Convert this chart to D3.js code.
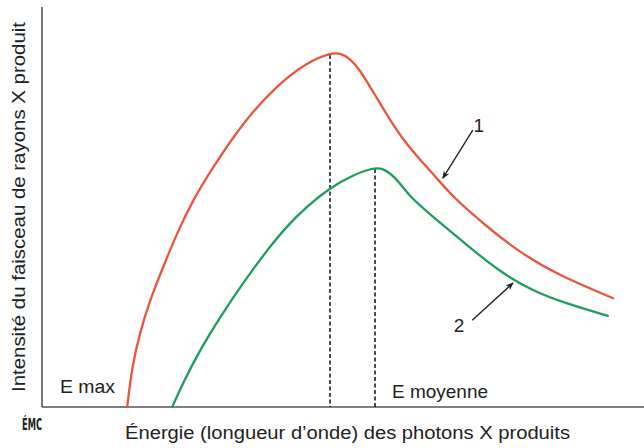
<!DOCTYPE html>
<html>
<head>
<meta charset="utf-8">
<script src="https://cdn.jsdelivr.net/npm/d3@7"></script>
<style>
  body { margin: 0; background: #fff; }
  svg text { font-family: "Liberation Sans", Arial, sans-serif; fill: #222; }
</style>
</head>
<body>
<div id="chart"></div>
<script>
// energy (arbitrary units, 0-100) and intensity (arbitrary units, 0-100)
var curve1Energy    = [14.2, 15.0, 16.3, 18.0, 20.2, 22.5, 25.2, 28.0, 33.5, 39.2, 44.2, 48.0, 49.7, 51.3, 53.0, 54.7, 56.3, 58.0, 60.2, 63.0, 65.8, 68.5, 73.8, 79.7, 86.3, 95.2];
var curve1Intensity = [0, 10.0, 18.5, 26.8, 35.0, 43.5, 51.8, 58.8, 71.2, 80.5, 86.2, 88.5, 88.5, 87.2, 84.2, 80.0, 76.0, 71.8, 66.8, 61.8, 57.2, 52.5, 45.5, 38.5, 32.8, 27.2];

var curve2Energy    = [21.7, 23.5, 26.3, 29.7, 33.5, 37.5, 40.8, 44.2, 48.0, 51.8, 55.2, 56.8, 59.2, 61.3, 65.2, 70.8, 76.3, 81.8, 87.5, 94.3];
var curve2Intensity = [0, 6.0, 14.2, 22.5, 31.0, 39.2, 45.2, 50.2, 54.8, 58.0, 59.8, 59.8, 57.0, 52.5, 47.5, 40.5, 33.8, 29.0, 25.8, 22.8];

// dashed markers at the peaks of curve 1 and curve 2
var markerEnergy    = [48.0, 55.5];
var markerIntensity = [88.0, 59.5];

// annotation arrows "1" and "2"
var arrowLabels = ['1', '2'];
var arrowFrom   = [[71.8, 69.2], [71.7, 21.7]];
var arrowTo     = [[66.8, 57.2], [78.5, 31.0]];
var arrowLabelAt = [[72.8, 68.8], [69.5, 18.8]];

(function() {
  'use strict';

  var width = 644, height = 448;

  var x = d3.scaleLinear().domain([0, 100]).range([42, 642]);
  var y = d3.scaleLinear().domain([0, 100]).range([407, 7]);

  var svg = d3.select('#chart')
    .append('svg')
      .attr('width', width)
      .attr('height', height);

  // axes: plain lines, no ticks
  svg.append('line')
    .attr('x1', x(0)).attr('x2', x(0))
    .attr('y1', y(100)).attr('y2', y(0))
    .attr('stroke', '#555').attr('stroke-width', 1.6);
  svg.append('line')
    .attr('x1', x(0)).attr('x2', width)
    .attr('y1', y(0)).attr('y2', y(0))
    .attr('stroke', '#555').attr('stroke-width', 1.6);

  // dashed markers
  svg.selectAll('.marker')
    .data(markerEnergy)
    .enter().append('line')
      .attr('class', 'marker')
      .attr('x1', function(d) { return x(d); })
      .attr('x2', function(d) { return x(d); })
      .attr('y1', function(d, i) { return y(markerIntensity[i]); })
      .attr('y2', y(0))
      .attr('stroke', '#111')
      .attr('stroke-width', 1.5)
      .attr('stroke-dasharray', '4,2.5');

  // basis curve smooths out reading noise in the points
  var lineGen = d3.line()
    .curve(d3.curveBasis)
    .x(function(d) { return x(d[0]); })
    .y(function(d) { return y(d[1]); });

  var curves = [
    { pts: d3.zip(curve1Energy, curve1Intensity), color: '#e9563f' },
    { pts: d3.zip(curve2Energy, curve2Intensity), color: '#1c9e5e' }
  ];

  svg.selectAll('.curve')
    .data(curves)
    .enter().append('path')
      .attr('class', 'curve')
      .attr('d', function(d) { return lineGen(d.pts); })
      .attr('fill', 'none')
      .attr('stroke', function(d) { return d.color; })
      .attr('stroke-width', 2.3)
      .attr('stroke-linecap', 'round');

  // arrows
  svg.append('defs').append('marker')
    .attr('id', 'arrow')
    .attr('viewBox', '0 0 10 10')
    .attr('refX', 9).attr('refY', 5)
    .attr('markerWidth', 8).attr('markerHeight', 8)
    .attr('markerUnits', 'userSpaceOnUse')
    .attr('orient', 'auto')
  .append('path')
    .attr('d', 'M0,1 L10,5 L0,9 L3,5 Z')
    .attr('fill', '#222');

  svg.selectAll('.arrow')
    .data(arrowLabels)
    .enter().append('line')
      .attr('class', 'arrow')
      .attr('x1', function(d, i) { return x(arrowFrom[i][0]); })
      .attr('y1', function(d, i) { return y(arrowFrom[i][1]); })
      .attr('x2', function(d, i) { return x(arrowTo[i][0]); })
      .attr('y2', function(d, i) { return y(arrowTo[i][1]); })
      .attr('stroke', '#222')
      .attr('stroke-width', 1.4)
      .attr('marker-end', 'url(#arrow)');

  svg.selectAll('.arrow-label')
    .data(arrowLabels)
    .enter().append('text')
      .attr('class', 'arrow-label')
      .attr('x', function(d, i) { return x(arrowLabelAt[i][0]); })
      .attr('y', function(d, i) { return y(arrowLabelAt[i][1]); })
      .attr('text-anchor', 'middle')
      .style('font-size', '19px')
      .text(function(d) { return d; });

  // peak labels
  svg.append('text')
    .attr('x', 60).attr('y', 393)
    .attr('textLength', 55).attr('lengthAdjust', 'spacingAndGlyphs')
    .style('font-size', '19px')
    .text('E max');
  svg.append('text')
    .attr('x', 392).attr('y', 398)
    .attr('textLength', 96).attr('lengthAdjust', 'spacingAndGlyphs')
    .style('font-size', '19px')
    .text('E moyenne');

  // axis titles
  svg.append('text')
    .attr('x', 125).attr('y', 439)
    .attr('textLength', 445).attr('lengthAdjust', 'spacingAndGlyphs')
    .style('font-size', '18px')
    .text('Énergie (longueur d\u2019onde) des photons X produits');

  svg.append('text')
    .attr('transform', 'translate(25,392) rotate(-90)')
    .attr('textLength', 370).attr('lengthAdjust', 'spacingAndGlyphs')
    .style('font-size', '18px')
    .text('Intensité du faisceau de rayons X produit');

  // small publisher mark
  svg.append('text')
    .attr('x', 22).attr('y', 430)
    .attr('textLength', 20).attr('lengthAdjust', 'spacingAndGlyphs')
    .style('font-size', '15px')
    .style('font-weight', 'bold')
    .style('font-family', '"DejaVu Sans Condensed", sans-serif')
    .text('ÉMC');
})();
</script>
</body>
</html>
